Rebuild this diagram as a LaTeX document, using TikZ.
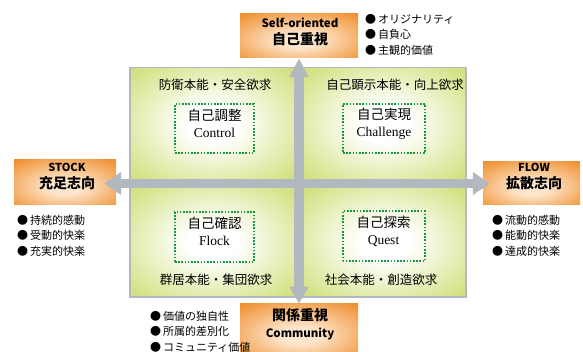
\documentclass[tikz,border=0pt]{standalone}
\usepackage{fontspec}
\newfontfamily\jp{Noto Sans CJK JP}
\newfontfamily\tms{Liberation Serif}
\usetikzlibrary{arrows.meta}

\definecolor{framegrey}{RGB}{178,184,192}
\definecolor{quadgreen}{RGB}{210,225,128}
\definecolor{boxorange}{RGB}{240,145,50}
\definecolor{boxlight}{RGB}{253,230,205}
\definecolor{coregreen}{RGB}{22,150,72}

\pgfdeclareradialshading{quadshade}{\pgfpoint{0bp}{0bp}}{color(0bp)=(white); color(8bp)=(white); color(34bp)=(quadgreen); color(50bp)=(quadgreen)}
\pgfdeclareradialshading{boxshade}{\pgfpoint{0bp}{-6bp}}{color(0bp)=(boxlight); color(8bp)=(boxlight); color(36bp)=(boxorange); color(60bp)=(boxorange)}

\begin{document}
\begin{tikzpicture}[x=1pt, y=-1pt,
    quad/.style={shading=quadshade},
    headbox/.style={shade, shading=boxshade, inner sep=0pt},
    headtxt/.style={align=center, inner sep=0pt, font=\jp\bfseries\fontsize{14}{17}\selectfont},
    corebox/.style={draw=coregreen, line width=2pt, dash pattern=on 1.6pt off 1.6pt, inner sep=0pt},
    coretxt/.style={align=center, inner sep=0pt, font=\fontsize{13.5}{17}\selectfont},
    quadtxt/.style={inner sep=0pt, font=\jp\fontsize{12.5}{14}\selectfont},
    list/.style={align=left, inner sep=0pt, anchor=west, font=\jp\fontsize{11}{15.5}\selectfont},
    vband/.style={draw=framegrey, line width=10pt, arrows={Triangle[width=18pt,length=19pt]-Triangle[width=18pt,length=17pt]}},
    hband/.style={draw=framegrey, line width=9pt, arrows={Triangle[width=22pt,length=17pt]-Triangle[width=22pt,length=17pt]}}]
\useasboundingbox (0,0) rectangle (583,352);

%% 外枠と四つの象限
\fill[framegrey] (129,67) rectangle (467,298);
\foreach \ax/\ay/\bx/\by in {131/69/294/179, 304/69/465/179, 131/188/294/296, 304/188/465/296}
{
    \shade[quad] (\ax,\ay) rectangle (\bx,\by);
}

%% 象限の見出し
\node[quadtxt] (defense) at (215,85) {防衛本能・安全欲求};
\node[quadtxt] (display) at (395,85) {自己顕示本能・向上欲求};
\node[quadtxt] (herd) at (216,280) {群居本能・集団欲求};
\node[quadtxt] (social) at (381,280) {社会本能・創造欲求};

%% 点線の枠
\node[corebox, minimum width=79pt, minimum height=49pt] (control) at (214.5,128.5) {};
\node[corebox, minimum width=82pt, minimum height=49pt] (challenge) at (384,128.5) {};
\node[corebox, minimum width=79pt, minimum height=50pt] (flock) at (214.5,237) {};
\node[corebox, minimum width=82pt, minimum height=50pt] (quest) at (383.5,236.5) {};
\node[coretxt] (controltxt) at (214.5,123.5) {\jp 自己調整\\\tms Control};
\node[coretxt] (challengetxt) at (384,123.5) {\jp 自己実現\\\tms Challenge};
\node[coretxt] (flocktxt) at (214.5,231) {\jp 自己確認\\\tms Flock};
\node[coretxt] (questtxt) at (383.5,231) {\jp 自己探索\\\tms Quest};

%% 四方の箱
\node[headbox, minimum width=118pt, minimum height=44pt] (self) at (299,36) {};
\node[headbox, minimum width=102pt, minimum height=45pt] (stock) at (65,182.5) {};
\node[headbox, minimum width=97pt, minimum height=43pt] (flow) at (531.5,183.5) {};
\node[headbox, minimum width=118pt, minimum height=52pt] (comm) at (299,330) {};
\node[headtxt] (selftxt) at (300,31.5) {{\fontsize{11.5}{17}\selectfont Self-oriented}\\自己重視};
\node[headtxt] (stocktxt) at (67,176.5) {{\fontsize{11}{17}\selectfont STOCK}\\充足志向};
\node[headtxt] (flowtxt) at (534,177) {{\fontsize{11}{17}\selectfont FLOW}\\拡散志向};
\node[headtxt] (commtxt) at (300,324) {関係重視\\{\fontsize{11.5}{17}\selectfont Community}};

%% 十字の矢印
\coordinate (c) at (299,183.5);
\draw[vband] (self.south) -- (comm.north);
\draw[hband, shorten <=-12pt, shorten >=-7pt] (stock.east |- c) -- (flow.west |- c);

%% 箇条書き
\node[list] (selflist) at (365,34.5) {●\,オリジナリティ\\●\,自負心\\●\,主観的価値};
\node[list] (stocklist) at (17,235.5) {●\,持続的感動\\●\,受動的快楽\\●\,充実的快楽};
\node[list] (flowlist) at (492,235.5) {●\,流動的感動\\●\,能動的快楽\\●\,達成的快楽};
\node[list] (commlist) at (150,331.5) {●\,価値の独自性\\●\,所属的差別化\\●\,コミュニティ価値};

\end{tikzpicture}
\end{document}
